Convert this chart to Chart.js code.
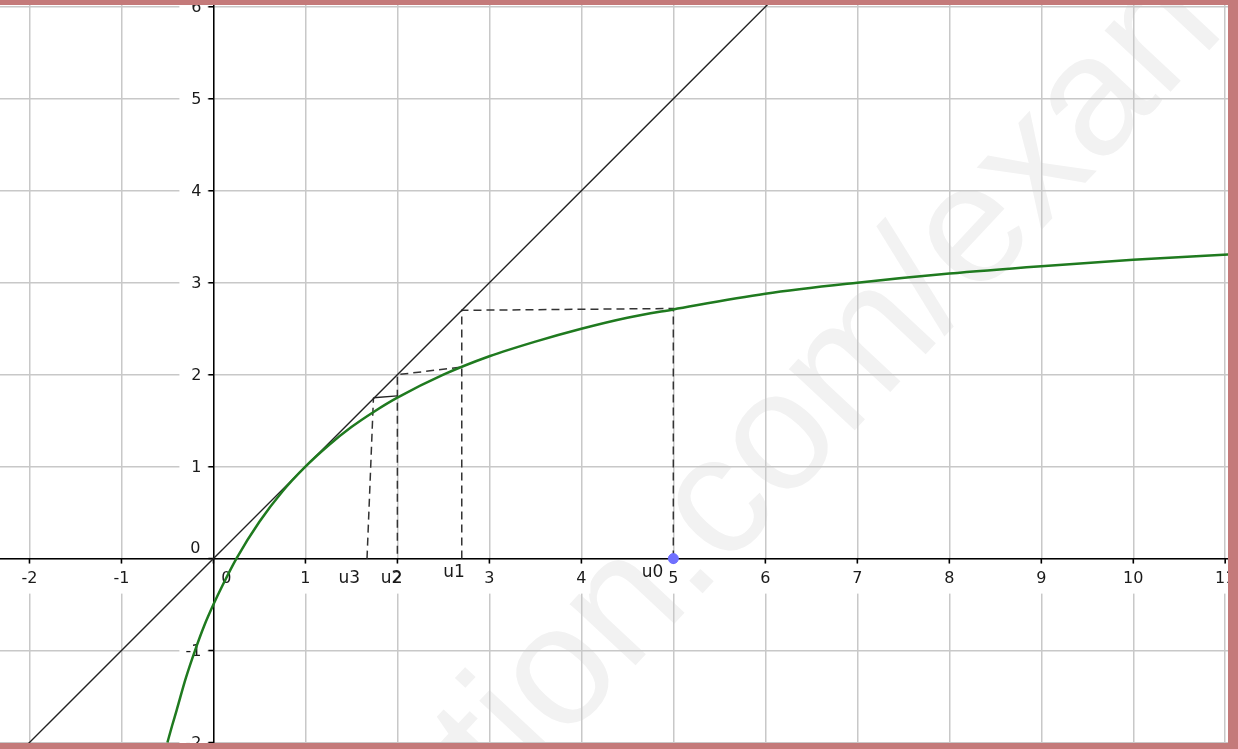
<!DOCTYPE html>
<html>
<head>
<meta charset="utf-8">
<script src="https://cdn.jsdelivr.net/npm/chart.js@4.4.0/dist/chart.umd.min.js"></script>
<style>
  html, body { margin: 0; padding: 0; background: #fff; }
  #frame {
    position: absolute; left: 0; top: 0;
    width: 1228px; height: 738px;
    border-top: 5px solid #c47a7a;
    border-right: 10px solid #c47a7a;
    border-bottom: 6px solid #c47a7a;
  }
  canvas { display: block; }
</style>
</head>
<body>
<div id="frame"><canvas id="graph" width="1228" height="738"></canvas></div>
<script>
// green curve, points
const curveX = [-0.5, -0.45, -0.4, -0.3, -0.2, -0.1, 0, 0.1, 0.25, 0.5, 0.75, 1, 1.25, 1.5, 1.75, 2, 2.5, 3, 3.5, 4, 4.5, 5, 6, 7, 8, 9, 10, 11.1];
const curveY = [-2.0, -1.82, -1.65, -1.3, -1.0, -0.73, -0.5, -0.29, 0, 0.4, 0.73, 1.0, 1.23, 1.43, 1.6, 1.75, 2.0, 2.2, 2.36, 2.5, 2.62, 2.71, 2.88, 3.0, 3.1, 3.18, 3.25, 3.31];

// line y = x
const diagX = [-3, 7];
const diagY = [-3, 7];

// cobweb steps
const stepAX = [5, 5, 2.7, 2.7];
const stepAY = [0, 2.72, 2.7, 0];
const stepBX = [2.68, 2.0, 2.0];
const stepBY = [2.08, 2.0, 0];
const stepCX = [1.67, 1.74];
const stepCY = [0, 1.75];
const stepSolidX = [1.74, 2.0];
const stepSolidY = [1.75, 1.77];

// sequence terms
const seqNames = ['u0', 'u1', 'u2', 'u3'];
const seqValues = [5, 2.7, 2.0, 1.67];

// axes
const xTicks = [-2, -1, 0, 1, 2, 3, 4, 5, 6, 7, 8, 9, 10, 11];
const xTickLabels = ['-2', '-1', '0', '1', '2', '3', '4', '5', '6', '7', '8', '9', '10', '11'];
const yTicks = [-2, -1, 0, 1, 2, 3, 4, 5, 6];
const yTickLabels = ['-2', '-1', '0', '1', '2', '3', '4', '5', '6'];

const toPoints = (xs, ys) => xs.map((v, i) => ({ x: v, y: ys[i] }));

const FONT = '16px "DejaVu Sans", Arial, sans-serif';

const decor = {
  id: 'decor',
  beforeDraw(chart) {
    // watermark
    const ctx = chart.ctx;
    ctx.save();
    ctx.translate(505, 800);
    ctx.rotate(-0.82);
    ctx.font = '170px "Liberation Sans", Arial, sans-serif';
    ctx.fillStyle = 'rgb(242,242,242)';
    ctx.textBaseline = 'alphabetic';
    ctx.fillText('tion.com/exan', 0, 0);
    ctx.restore();
  },
  beforeDatasetsDraw(chart) {
    const { ctx, scales: { x, y } } = chart;
    const x0 = x.getPixelForValue(0);
    const y0 = y.getPixelForValue(0);
    ctx.save();
    ctx.font = FONT;
    ctx.textBaseline = 'middle';

    // x labels
    ctx.textAlign = 'center';
    xTicks.forEach((v, i) => {
      let px = x.getPixelForValue(v);
      if (v === 0) px += 13;
      const w = ctx.measureText(xTickLabels[i]).width;
      ctx.fillStyle = '#fff';
      if (v !== 0) ctx.fillRect(px - w / 2 - 4, y0 + 5, w + 8, 30);
      ctx.fillStyle = '#1a1a1a';
      ctx.fillText(xTickLabels[i], px, y0 + 20);
    });

    // y labels
    ctx.textAlign = 'right';
    yTicks.forEach((v, i) => {
      const py = y.getPixelForValue(v);
      if (v === 0) {
        ctx.fillStyle = '#1a1a1a';
        ctx.fillText(yTickLabels[i], x0 - 13, py - 10);
        return;
      }
      ctx.fillStyle = '#fff';
      ctx.fillRect(x0 - 34, py - 10, 28, 20);
      ctx.fillStyle = '#1a1a1a';
      ctx.fillText(yTickLabels[i], x0 - 12, py + 1);
    });

    // tick marks
    ctx.strokeStyle = '#000';
    ctx.lineWidth = 1.5;
    ctx.beginPath();
    xTicks.forEach(v => {
      const px = x.getPixelForValue(v);
      ctx.moveTo(px, y0);
      ctx.lineTo(px, y0 + 5);
    });
    yTicks.forEach(v => {
      const py = y.getPixelForValue(v);
      ctx.moveTo(x0 - 5, py);
      ctx.lineTo(x0, py);
    });
    ctx.stroke();

    // sequence labels
    const offs = [[-10, -6], [3, -6], [5, 0], [-7, 0]];
    ctx.textAlign = 'right';
    ctx.font = '17px "DejaVu Sans", Arial, sans-serif';
    ctx.fillStyle = '#1a1a1a';
    seqNames.forEach((n, i) => {
      const px = x.getPixelForValue(seqValues[i]);
      ctx.fillText(n, px + offs[i][0], y0 + 20 + offs[i][1]);
    });
    ctx.restore();
  }
};

const dashed = { borderColor: '#333', borderWidth: 1.5, borderDash: [8, 5], pointRadius: 0, showLine: true, fill: false };

new Chart(document.getElementById('graph'), {
  type: 'scatter',
  data: {
    datasets: [
      { data: [{ x: seqValues[0], y: 0 }], pointRadius: 5, pointBackgroundColor: '#7070ff', pointBorderColor: '#7070ff', showLine: false },
      { data: toPoints(curveX, curveY), borderColor: '#1f7a1f', borderWidth: 2.5, pointRadius: 0, showLine: true, cubicInterpolationMode: 'monotone' },
      { data: toPoints(diagX, diagY), borderColor: '#222', borderWidth: 1.4, pointRadius: 0, showLine: true },
      Object.assign({ data: toPoints(stepAX, stepAY) }, dashed),
      Object.assign({ data: toPoints(stepBX, stepBY) }, dashed),
      Object.assign({ data: toPoints(stepCX, stepCY) }, dashed),
      { data: toPoints(stepSolidX, stepSolidY), borderColor: '#222', borderWidth: 1.4, pointRadius: 0, showLine: true }
    ]
  },
  options: {
    responsive: false,
    animation: false,
    layout: { padding: 0, autoPadding: false },
    plugins: { legend: { display: false }, tooltip: { enabled: false } },
    scales: {
      x: {
        type: 'linear', position: { y: 0 }, min: -2.32, max: 11.03,
        ticks: { display: false, stepSize: 1, includeBounds: false },
        grid: { color: 'rgb(200,200,200)', lineWidth: 1.5, drawTicks: false },
        border: { display: true, color: '#000', width: 1.5 }
      },
      y: {
        type: 'linear', position: { x: 0 }, min: -2.005, max: 6.02,
        ticks: { display: false, stepSize: 1, includeBounds: false },
        grid: { color: 'rgb(200,200,200)', lineWidth: 1.5, drawTicks: false },
        border: { display: true, color: '#000', width: 1.5 }
      }
    }
  },
  plugins: [decor]
});
</script>
</body>
</html>
